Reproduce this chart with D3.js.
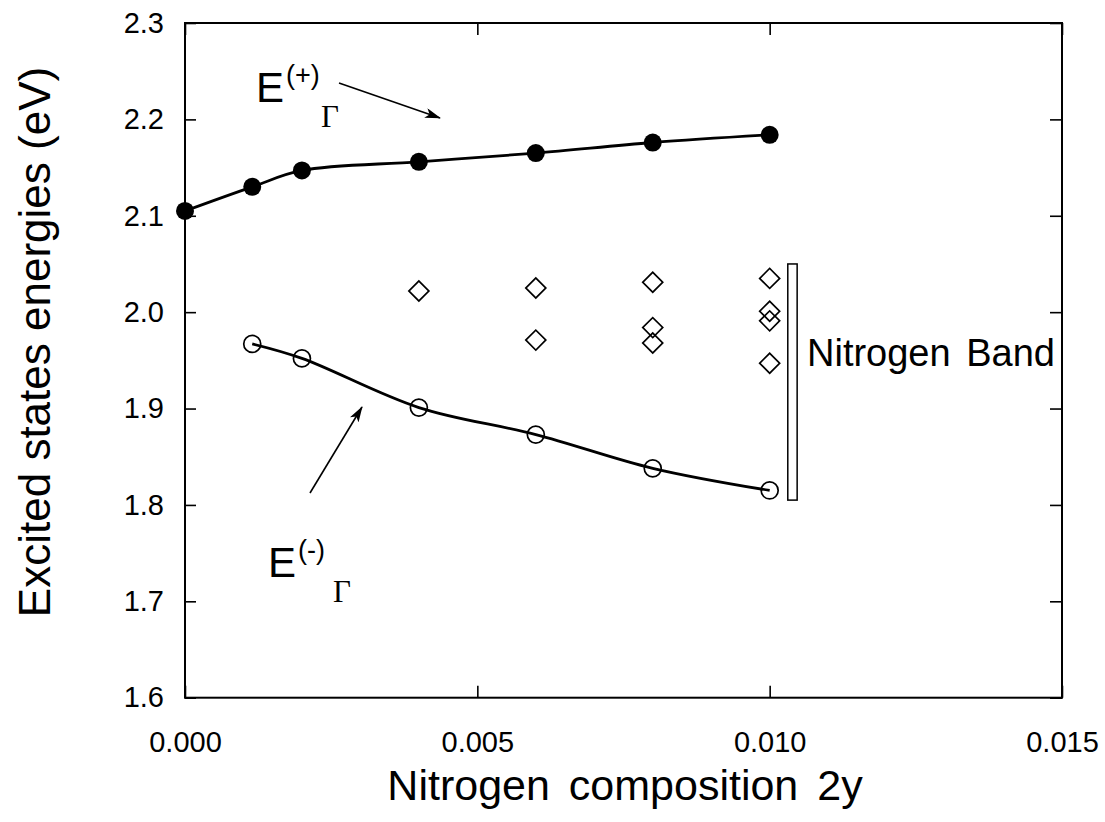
<!DOCTYPE html>
<html>
<head>
<meta charset="utf-8">
<script src="https://cdn.jsdelivr.net/npm/d3@7"></script>
<style>
  body { margin: 0; background: #fff; }
  svg { font-family: "Liberation Sans", Arial, Helvetica, sans-serif; }
</style>
</head>
<body>
<svg id="chart" width="1105" height="822"></svg>
<script>
// valeurs
const xTicks = [0, 0.005, 0.010, 0.015];
const yTicks = [1.6, 1.7, 1.8, 1.9, 2.0, 2.1, 2.2, 2.3];

const xPlus = [0, 0.00115, 0.002, 0.004, 0.006, 0.008, 0.010];
const ePlus = [2.105, 2.130, 2.147, 2.156, 2.165, 2.176, 2.184];

const xMinus = [0.00115, 0.002, 0.004, 0.006, 0.008, 0.010];
const eMinus = [1.967, 1.952, 1.901, 1.873, 1.838, 1.815];

const xBand = [0.004, 0.006, 0.006, 0.008, 0.008, 0.008, 0.010, 0.010, 0.010, 0.010];
const eBand = [2.022, 2.025, 1.971, 2.031, 1.984, 1.968, 2.035, 2.001, 1.991, 1.947];

const bandBarX = [0.01031, 0.01047];
const bandBarE = [1.805, 2.050];

const svg = d3.select('#chart');
const pLeft = 185, pTop = 23, pRight = 1062, pBottom = 697.7;

const x = d3.scaleLinear().domain([0, 0.015]).range([pLeft, pRight]);
const y = d3.scaleLinear().domain([1.6, 2.3]).range([pBottom, pTop]);

// flèches
svg.append('defs').append('marker')
    .attr('id', 'head')
    .attr('markerUnits', 'userSpaceOnUse')
    .attr('viewBox', '0 0 16 10')
    .attr('refX', 15).attr('refY', 5)
    .attr('markerWidth', 16).attr('markerHeight', 10)
    .attr('orient', 'auto')
  .append('path')
    .attr('d', 'M0,0 L16,5 L0,10 L4,5 Z')
    .attr('fill', '#000');

// axes
const tickFont = 29;
const gx = svg.append('g').attr('transform', `translate(0,${pBottom})`)
    .call(d3.axisBottom(x).tickValues(xTicks).tickFormat(d3.format('.3f'))
        .tickSizeInner(-12).tickSizeOuter(0).tickPadding(34));
const gxTop = svg.append('g').attr('transform', `translate(0,${pTop})`)
    .call(d3.axisTop(x).tickValues(xTicks).tickFormat('')
        .tickSizeInner(-12).tickSizeOuter(0));
const gy = svg.append('g').attr('transform', `translate(${pLeft},0)`)
    .call(d3.axisLeft(y).tickValues(yTicks).tickFormat(d3.format('.1f'))
        .tickSizeInner(-11).tickSizeOuter(0).tickPadding(21));
const gyRight = svg.append('g').attr('transform', `translate(${pRight},0)`)
    .call(d3.axisRight(y).tickValues(yTicks).tickFormat('')
        .tickSizeInner(-12).tickSizeOuter(0));

[gx, gxTop, gy, gyRight].forEach(g => {
    g.select('.domain').remove();
    g.selectAll('line').attr('stroke', '#000').attr('stroke-width', 1.6);
    g.selectAll('text').attr('font-size', tickFont).attr('fill', '#000')
        .attr('font-family', '"Liberation Sans", Arial, sans-serif');
});

// cadre
svg.append('rect')
    .attr('x', pLeft).attr('y', pTop)
    .attr('width', pRight - pLeft).attr('height', pBottom - pTop)
    .attr('fill', 'none').attr('stroke', '#000').attr('stroke-width', 2);

// courbes
const line = d3.line()
    .x(d => x(d[0])).y(d => y(d[1]))
    .curve(d3.curveCatmullRom.alpha(0.5));

const plusPts = xPlus.map((v, i) => [v, ePlus[i]]);
const minusPts = xMinus.map((v, i) => [v, eMinus[i]]);

svg.append('path').datum(plusPts).attr('d', line)
    .attr('fill', 'none').attr('stroke', '#000').attr('stroke-width', 2.8);
svg.append('path').datum(minusPts).attr('d', line)
    .attr('fill', 'none').attr('stroke', '#000').attr('stroke-width', 2.8);

svg.selectAll('.plus').data(plusPts).join('circle')
    .attr('class', 'plus')
    .attr('cx', d => x(d[0])).attr('cy', d => y(d[1]))
    .attr('r', 9).attr('fill', '#000');

svg.selectAll('.minus').data(minusPts).join('circle')
    .attr('class', 'minus')
    .attr('cx', d => x(d[0])).attr('cy', d => y(d[1]))
    .attr('r', 8.5).attr('fill', 'none')
    .attr('stroke', '#000').attr('stroke-width', 1.7);

// losanges de la bande azote
const diamond = d3.symbol().type(d3.symbolSquare).size(200);
svg.selectAll('.band').data(xBand.map((v, i) => [v, eBand[i]])).join('path')
    .attr('class', 'band')
    .attr('d', diamond)
    .attr('transform', d => `translate(${x(d[0])},${y(d[1])}) rotate(45)`)
    .attr('fill', 'none').attr('stroke', '#000').attr('stroke-width', 1.7);

// barre "Nitrogen Band"
svg.append('rect')
    .attr('x', x(bandBarX[0])).attr('y', y(bandBarE[1]))
    .attr('width', x(bandBarX[1]) - x(bandBarX[0]))
    .attr('height', y(bandBarE[0]) - y(bandBarE[1]))
    .attr('fill', '#fff').attr('stroke', '#000').attr('stroke-width', 1.5);

svg.append('text')
    .attr('x', 807).attr('y', 366)
    .attr('font-size', 38).attr('word-spacing', 5)
    .text('Nitrogen Band');

// étiquettes E(+) et E(-)
function label(xE, yE, sup) {
    const g = svg.append('g');
    g.append('text').attr('x', xE).attr('y', yE)
        .attr('font-size', 42).text('E');
    g.append('text').attr('x', xE + 30).attr('y', yE - 18)
        .attr('font-size', 27).text(sup);
    g.append('text').attr('x', xE + 65).attr('y', yE + 25)
        .attr('font-size', 31)
        .attr('font-family', '"Liberation Serif", "Times New Roman", serif')
        .text('\u0393');
}
label(256, 102, '(+)');
label(268, 577, '(-)');

svg.append('line')
    .attr('x1', 339).attr('y1', 83).attr('x2', 440).attr('y2', 118)
    .attr('stroke', '#000').attr('stroke-width', 1.6)
    .attr('marker-end', 'url(#head)');
svg.append('line')
    .attr('x1', 310).attr('y1', 493).attr('x2', 362).attr('y2', 407)
    .attr('stroke', '#000').attr('stroke-width', 1.6)
    .attr('marker-end', 'url(#head)');

// titres des axes
svg.append('text')
    .attr('x', 625).attr('y', 800)
    .attr('text-anchor', 'middle')
    .attr('font-size', 43).attr('word-spacing', 7)
    .text('Nitrogen composition 2y');

svg.append('text')
    .attr('transform', 'translate(50,342) rotate(-90)')
    .attr('text-anchor', 'middle')
    .attr('font-size', 44)
    .text('Excited states energies (eV)');
</script>
</body>
</html>
